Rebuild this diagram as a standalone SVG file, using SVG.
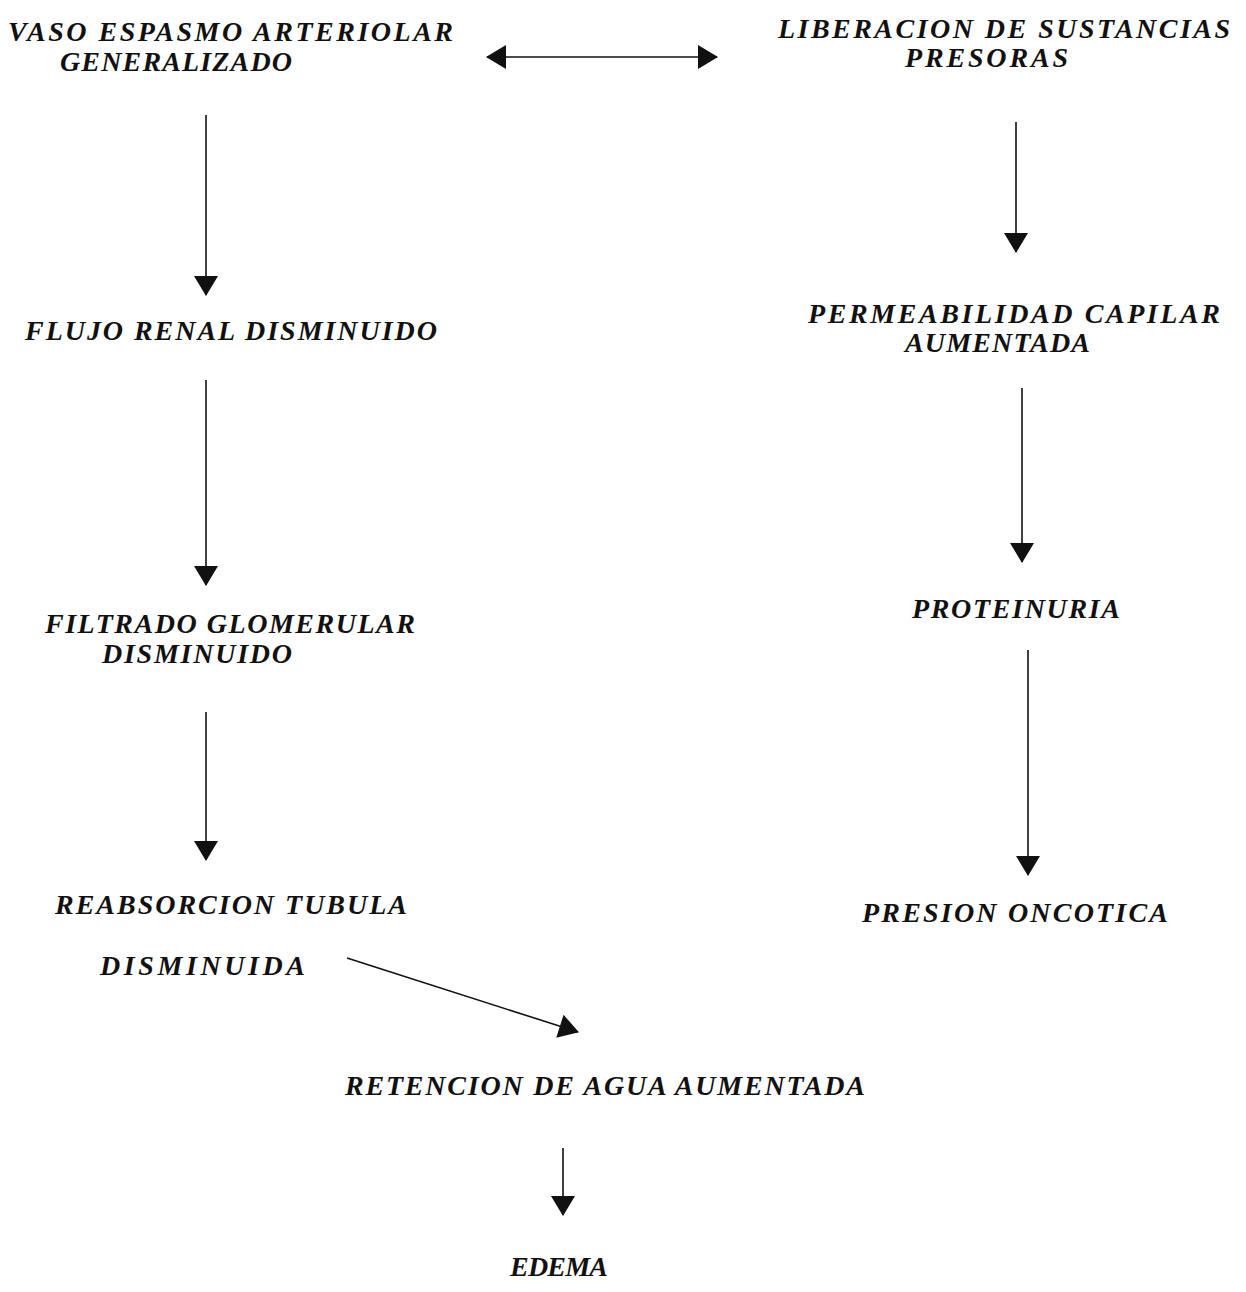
<svg xmlns="http://www.w3.org/2000/svg" width="1246" height="1292" viewBox="0 0 1246 1292">
<style>
text{font-family:"Liberation Serif","DejaVu Serif",serif;font-style:italic;font-weight:bold;font-size:28px;fill:#111}
.c line{stroke:#111;stroke-width:1.6;fill:none}
</style>
<defs>
<marker id="ah" markerUnits="userSpaceOnUse" markerWidth="22" markerHeight="24" viewBox="0 0 20 24" refX="19" refY="12" orient="auto-start-reverse">
<path d="M0,0 L20,12 L0,24 Z" fill="#111"/>
</marker>
</defs>
<rect width="1246" height="1292" fill="#fff"/>
<g id="n1"><text x="8" y="41" textLength="445" lengthAdjust="spacing">VASO ESPASMO ARTERIOLAR</text><text x="60" y="71" textLength="232" lengthAdjust="spacing">GENERALIZADO</text></g>
<g id="n2"><text x="778" y="38" textLength="452" lengthAdjust="spacing">LIBERACION DE SUSTANCIAS</text><text x="905" y="67" textLength="163" lengthAdjust="spacing">PRESORAS</text></g>
<g id="n3"><text x="25" y="340" textLength="412" lengthAdjust="spacing">FLUJO RENAL DISMINUIDO</text></g>
<g id="n4"><text x="808" y="323" textLength="412" lengthAdjust="spacing">PERMEABILIDAD CAPILAR</text><text x="905" y="352" textLength="185" lengthAdjust="spacing">AUMENTADA</text></g>
<g id="n5"><text x="45" y="633" textLength="370" lengthAdjust="spacing">FILTRADO GLOMERULAR</text><text x="102" y="663" textLength="190" lengthAdjust="spacing">DISMINUIDO</text></g>
<g id="n6"><text x="912" y="618" textLength="208" lengthAdjust="spacing">PROTEINURIA</text></g>
<g id="n7"><text x="55" y="914" textLength="352" lengthAdjust="spacing">REABSORCION TUBULA</text><text x="100" y="975" textLength="205" lengthAdjust="spacing">DISMINUIDA</text></g>
<g id="n8"><text x="862" y="922" textLength="306" lengthAdjust="spacing">PRESION ONCOTICA</text></g>
<g id="n9"><text x="345" y="1095" textLength="520" lengthAdjust="spacing">RETENCION DE AGUA AUMENTADA</text></g>
<g id="n10"><text x="510" y="1276" textLength="98" lengthAdjust="spacing">EDEMA</text></g>
<g class="c" id="connectors">
<line x1="487" y1="57" x2="717" y2="57" marker-start="url(#ah)" marker-end="url(#ah)"/>
<line x1="206" y1="115" x2="206" y2="295" marker-end="url(#ah)"/>
<line x1="206" y1="380" x2="206" y2="585" marker-end="url(#ah)"/>
<line x1="206" y1="712" x2="206" y2="860" marker-end="url(#ah)"/>
<line x1="347" y1="958" x2="578" y2="1032" marker-end="url(#ah)"/>
<line x1="563" y1="1148" x2="563" y2="1215" marker-end="url(#ah)"/>
<line x1="1016" y1="122" x2="1016" y2="252" marker-end="url(#ah)"/>
<line x1="1022" y1="388" x2="1022" y2="562" marker-end="url(#ah)"/>
<line x1="1028" y1="650" x2="1028" y2="875" marker-end="url(#ah)"/>
</g>
</svg>
